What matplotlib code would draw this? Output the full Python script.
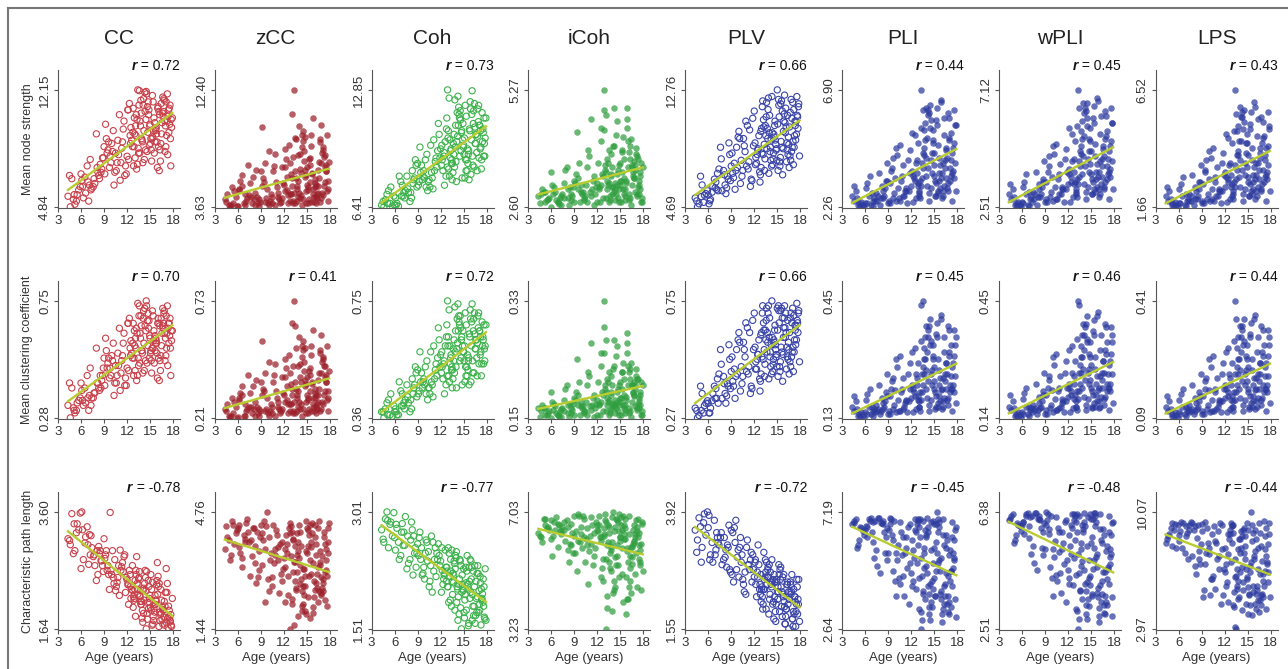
import numpy as np
import matplotlib
matplotlib.use("Agg")
import matplotlib.pyplot as plt
from matplotlib.lines import Line2D

# ages of the subjects (same subjects in every panel)
age = [5.4, 4.6, 5.9, 4.3, 5.2, 4.8, 5.7, 5.0, 4.5, 5.5,
       7.1, 6.3, 6.8, 7.4, 6.0, 6.6, 7.2, 6.1, 7.0, 6.5,
       8.5, 7.8, 9.0, 8.2, 7.6, 8.9, 8.3, 8.0, 8.7, 8.4,
       9.8, 10.2, 9.1, 9.9, 9.3, 10.3, 9.5, 9.7, 9.2, 10.0,
       11.3, 10.6, 11.6, 10.8, 11.1, 10.5, 11.5, 10.7, 11.0, 11.4,
       12.4, 11.8, 12.7, 12.1, 11.7, 12.5, 12.0, 12.3, 12.6, 12.2,
       13.3, 12.9, 13.6, 13.0, 13.25, 12.8, 13.5, 13.1, 13.4, 13.2,
       14.2, 13.8, 14.4, 13.7, 14.05, 14.3, 13.9, 14.35, 14.0, 14.1,
       15.0, 14.6, 15.3, 14.7, 14.5, 15.2, 14.8, 15.1, 14.65, 14.9,
       15.8, 15.4, 16.1, 15.5, 15.95, 15.35, 16.0, 15.6, 15.9, 15.7,
       16.6, 16.3, 17.0, 16.45, 16.2, 16.9, 16.5, 16.8, 16.4, 16.7,
       17.5, 17.15, 17.9, 17.3, 17.1, 17.8, 17.4, 17.7, 17.2, 17.6,
       8.1, 5.1, 9.4, 6.9, 8.8, 7.3, 9.6, 6.2, 8.6, 7.7,
       12.45, 10.4, 12.95, 11.2, 10.1, 12.75, 11.9, 10.9, 12.15, 12.85,
       13.75, 13.05, 14.15, 13.45, 13.15, 13.85, 13.35, 13.95, 13.55, 13.65,
       15.05, 14.45, 15.45, 14.75, 14.25, 15.25, 14.85, 15.15, 14.55, 14.95,
       16.25, 15.65, 16.65, 15.85, 15.55, 16.55, 16.05, 16.35, 15.75, 16.15,
       17.45, 16.85, 17.75, 17.05, 16.75, 17.65, 17.25, 17.55, 16.95, 17.35]

methods = ['CC', 'zCC', 'Coh', 'iCoh', 'PLV', 'PLI', 'wPLI', 'LPS']
measures = ['Mean node strength', 'Mean clustering coefficient', 'Characteristic path length']

#Mean node strength
strength_cc = [5.2, 4.84, 6.1, 5.5, 5.0, 6.6, 5.9, 5.3, 6.8, 5.6,
               6.2, 5.4, 7.4, 6.0, 6.9, 5.7, 7.8, 6.5, 5.2, 6.7,
               7.5, 6.3, 8.6, 7.0, 6.1, 7.9, 6.8, 9.4, 7.2, 6.6,
               8.0, 9.6, 6.9, 7.6, 9.1, 6.2, 8.4, 7.3, 10.0, 8.8,
               8.5, 7.1, 10.2, 9.0, 6.5, 8.2, 9.7, 7.6, 10.6, 8.9,
               9.3, 7.4, 8.6, 10.9, 6.8, 9.8, 8.0, 11.3, 9.0, 7.8,
               10.3, 8.6, 12.1, 9.4, 7.2, 11.0, 8.2, 9.9, 12.15, 10.6,
               9.6, 11.5, 8.4, 10.2, 7.6, 12.0, 9.1, 10.8, 8.9, 11.2,
               10.0, 8.3, 11.8, 9.5, 12.05, 7.7, 10.6, 9.1, 11.1, 8.7,
               9.8, 11.4, 8.6, 10.4, 7.3, 9.2, 11.0, 10.1, 8.9, 9.6,
               10.7, 8.4, 9.9, 11.3, 7.1, 10.2, 9.4, 11.6, 8.8, 10.5,
               11.0, 9.3, 10.4, 8.1, 11.4, 9.8, 10.9, 7.4, 10.2, 11.2,
               7.3, 5.6, 8.2, 6.4, 7.9, 5.9, 8.9, 6.1, 7.0, 6.6,
               8.8, 7.0, 10.4, 7.6, 8.3, 9.5, 6.9, 8.1, 10.9, 7.4,
               9.9, 7.9, 11.6, 8.5, 9.3, 10.7, 7.5, 9.0, 11.2, 8.2,
               8.8, 10.3, 9.6, 11.4, 7.8, 9.1, 10.9, 8.4, 11.9, 9.9,
               10.6, 8.9, 11.7, 9.4, 8.2, 10.1, 11.1, 7.7, 9.7, 10.8,
               9.5, 11.5, 10.3, 8.6, 10.8, 9.1, 11.9, 10.0, 8.3, 10.5]
strength_zcc = [3.9, 4.6, 3.7, 4.2, 5.1, 3.8, 4.4, 3.63, 4.0, 4.8,
                4.1, 5.6, 3.9, 4.5, 3.7, 6.0, 4.3, 4.9, 3.8, 5.2,
                4.4, 3.9, 6.3, 4.7, 5.4, 4.0, 3.8, 5.9, 4.2, 6.4,
                5.0, 4.1, 9.6, 3.9, 5.8, 4.6, 6.9, 4.3, 5.2, 3.8,
                4.7, 6.3, 4.0, 7.6, 5.1, 4.4, 3.9, 6.7, 5.5, 4.2,
                5.9, 4.3, 8.3, 4.8, 6.6, 3.9, 5.3, 7.2, 4.5, 8.0,
                12.40, 4.6, 8.7, 5.8, 4.1, 6.9, 8.8, 5.2, 3.9, 7.4,
                6.2, 4.4, 8.1, 5.0, 7.6, 3.8, 5.6, 9.0, 4.7, 6.5,
                5.3, 7.8, 4.2, 6.4, 8.6, 4.9, 5.9, 3.9, 7.1, 6.0,
                4.6, 7.3, 5.4, 9.0, 4.0, 6.8, 5.1, 8.2, 4.4, 6.1,
                5.8, 4.3, 7.7, 6.4, 3.9, 9.8, 5.2, 6.9, 4.7, 8.5,
                6.3, 4.5, 7.0, 5.5, 8.1, 4.1, 6.6, 5.0, 7.4, 4.8,
                4.2, 3.8, 5.5, 4.6, 3.7, 6.8, 4.0, 5.0, 3.9, 4.4,
                4.9, 3.9, 6.1, 4.4, 7.8, 4.1, 5.4, 3.8, 6.6, 4.6,
                5.2, 10.6, 4.3, 6.3, 3.9, 7.5, 4.7, 9.7, 5.8, 4.1,
                6.6, 4.2, 5.5, 8.9, 4.5, 7.2, 3.9, 5.1, 9.3, 4.8,
                4.4, 6.2, 8.7, 5.0, 4.0, 7.0, 5.7, 4.6, 10.3, 5.3,
                6.8, 4.3, 5.6, 7.9, 4.0, 9.0, 5.2, 6.3, 4.7, 7.5]
strength_coh = [6.6, 6.41, 7.0, 6.5, 7.3, 6.8, 6.45, 7.1, 6.7, 7.5,
                7.0, 6.6, 7.8, 7.3, 6.5, 8.1, 7.2, 6.9, 7.6, 6.44,
                7.9, 7.2, 8.8, 6.9, 8.1, 7.5, 8.4, 6.7, 9.0, 7.7,
                8.4, 9.3, 7.6, 8.0, 9.7, 7.3, 8.7, 8.1, 7.8, 9.0,
                8.9, 7.5, 9.5, 8.3, 10.1, 7.9, 8.6, 9.8, 7.4, 9.1,
                9.2, 10.4, 8.1, 8.7, 11.0, 7.6, 9.6, 8.4, 10.0, 9.0,
                9.5, 12.85, 8.3, 10.6, 9.1, 11.3, 7.9, 12.4, 8.8, 10.1,
                10.3, 8.6, 11.5, 9.3, 7.8, 10.9, 9.7, 11.9, 8.9, 10.0,
                9.8, 11.2, 8.4, 10.5, 9.2, 12.0, 8.0, 10.2, 9.5, 11.0,
                10.6, 9.0, 12.8, 9.6, 8.2, 11.4, 10.1, 9.3, 11.8, 7.9,
                10.4, 11.7, 9.1, 10.8, 8.7, 11.1, 9.9, 10.3, 12.1, 9.4,
                10.7, 9.6, 11.3, 8.5, 10.9, 10.2, 11.6, 9.9, 10.6, 9.2,
                7.2, 6.6, 8.3, 7.0, 8.7, 6.9, 7.9, 6.5, 8.0, 7.4,
                9.4, 7.8, 10.2, 8.4, 7.5, 10.7, 9.1, 8.0, 9.8, 8.6,
                10.4, 8.5, 11.6, 9.0, 8.1, 12.3, 9.6, 10.9, 8.8, 9.9,
                9.3, 11.3, 8.4, 10.6, 12.5, 9.0, 10.1, 8.0, 11.7, 9.7,
                11.0, 9.5, 10.4, 12.2, 8.8, 9.9, 11.5, 8.6, 10.7, 9.2,
                10.0, 11.8, 9.2, 10.9, 8.4, 11.3, 9.7, 10.5, 12.0, 9.0]
strength_icoh = [2.75, 2.9, 2.60, 2.85, 2.7, 3.0, 2.8, 2.95, 2.68, 2.78,
                 2.8, 3.05, 2.7, 2.9, 3.4, 2.75, 2.85, 3.1, 2.66, 2.95,
                 2.9, 3.45, 2.7, 3.0, 2.8, 3.2, 2.65, 3.5, 2.85, 3.05,
                 2.95, 2.75, 3.15, 3.1, 4.3, 2.8, 3.0, 2.7, 3.35, 2.9,
                 3.0, 2.7, 3.3, 3.9, 2.85, 3.1, 2.65, 3.5, 2.95, 3.2,
                 4.1, 3.05, 2.8, 3.6, 2.9, 4.4, 3.15, 2.7, 3.35, 3.0,
                 3.2, 5.27, 2.85, 3.55, 3.0, 4.8, 2.7, 3.4, 3.1, 3.7,
                 4.85, 3.3, 2.9, 3.8, 3.05, 2.75, 3.5, 3.15, 4.0, 2.95,
                 3.6, 3.1, 4.2, 2.8, 3.35, 3.9, 3.0, 2.7, 3.45, 3.2,
                 4.85, 3.25, 2.9, 3.7, 4.1, 3.0, 3.5, 2.75, 4.4, 3.15,
                 3.4, 2.8, 3.8, 3.1, 4.0, 2.95, 3.55, 3.25, 2.65, 3.65,
                 3.3, 2.9, 3.5, 3.05, 3.75, 2.7, 3.2, 3.6, 2.85, 3.4,
                 2.8, 2.95, 3.25, 2.7, 3.05, 2.65, 3.6, 2.9, 2.75, 3.15,
                 3.1, 2.85, 3.45, 4.6, 2.95, 3.3, 2.7, 3.75, 3.05, 4.35,
                 3.35, 2.8, 4.0, 3.15, 4.7, 2.9, 3.6, 3.05, 3.9, 2.75,
                 3.2, 4.25, 2.9, 3.55, 3.0, 3.85, 2.7, 3.4, 4.55, 3.1,
                 3.7, 2.85, 3.3, 4.6, 3.0, 3.5, 2.75, 4.15, 3.2, 3.85,
                 3.1, 3.55, 2.8, 3.95, 3.25, 2.7, 3.7, 3.0, 3.45, 2.9]
strength_plv = [5.0, 4.69, 5.8, 5.3, 6.2, 4.9, 5.6, 6.8, 5.1, 5.5,
                5.9, 5.2, 6.6, 7.3, 5.5, 6.1, 7.0, 4.9, 6.4, 5.7,
                6.8, 5.8, 7.5, 6.2, 8.8, 6.5, 5.6, 7.2, 9.1, 6.0,
                7.4, 6.3, 8.4, 9.5, 6.7, 7.9, 5.9, 8.8, 7.0, 9.9,
                7.8, 9.4, 6.6, 8.5, 10.3, 7.2, 6.1, 8.9, 7.5, 10.0,
                8.3, 10.8, 7.1, 9.1, 6.5, 8.7, 11.3, 7.7, 9.6, 8.1,
                9.0, 7.4, 11.9, 8.4, 10.2, 6.9, 9.6, 12.0, 8.0, 10.7,
                9.3, 11.4, 7.6, 10.1, 8.5, 12.3, 7.0, 9.8, 11.0, 8.8,
                12.76, 9.5, 7.8, 10.6, 8.4, 11.7, 9.0, 7.2, 10.3, 8.7,
                9.9, 8.1, 11.5, 9.2, 12.4, 7.5, 10.5, 8.8, 11.1, 6.9,
                10.2, 8.6, 11.9, 9.5, 7.8, 10.8, 9.0, 12.1, 8.3, 11.2,
                9.7, 11.4, 8.2, 10.6, 7.6, 11.8, 9.3, 10.1, 8.8, 11.0,
                6.9, 5.4, 7.7, 6.0, 8.3, 5.8, 7.2, 5.1, 6.6, 8.0,
                8.6, 6.8, 10.1, 7.3, 9.4, 6.4, 8.9, 10.6, 7.6, 9.9,
                9.4, 11.6, 7.9, 10.3, 8.3, 12.2, 7.2, 9.8, 10.9, 8.7,
                10.4, 8.0, 11.8, 9.3, 7.5, 10.9, 8.6, 12.1, 9.7, 7.9,
                9.1, 11.3, 8.2, 10.6, 12.0, 7.4, 9.8, 11.0, 8.7, 10.2,
                10.6, 8.5, 11.6, 9.2, 7.9, 10.9, 9.6, 12.3, 8.8, 10.3]
strength_pli = [2.3, 2.5, 2.26, 2.7, 2.4, 2.9, 2.35, 2.6, 3.1, 2.45,
                2.5, 3.2, 2.35, 2.8, 2.4, 3.5, 2.6, 3.0, 2.3, 2.7,
                2.7, 3.6, 2.4, 3.1, 2.5, 4.0, 2.9, 2.35, 3.3, 2.6,
                2.8, 4.3, 2.5, 3.4, 2.4, 3.0, 3.8, 2.6, 3.2, 4.6,
                3.0, 2.5, 4.1, 3.5, 2.7, 4.7, 2.4, 3.3, 3.9, 2.9,
                3.4, 4.5, 2.6, 3.7, 2.9, 5.1, 3.1, 2.45, 4.0, 3.5,
                6.90, 3.2, 4.4, 2.7, 5.4, 3.6, 6.1, 2.9, 4.0, 3.3,
                3.8, 5.6, 2.8, 4.6, 3.1, 6.0, 3.5, 2.5, 4.2, 5.0,
                4.4, 3.0, 5.7, 3.6, 6.3, 2.7, 4.9, 3.3, 4.1, 5.3,
                3.9, 6.2, 2.9, 4.7, 3.4, 5.5, 2.6, 4.2, 6.4, 3.6,
                4.5, 3.1, 5.8, 3.8, 2.7, 4.9, 3.4, 6.0, 4.1, 3.0,
                3.7, 5.2, 2.9, 4.4, 3.3, 5.5, 2.5, 4.0, 3.5, 4.8,
                2.6, 2.35, 3.7, 2.8, 3.3, 2.5, 4.2, 2.4, 3.0, 2.7,
                3.3, 2.6, 4.8, 2.9, 2.5, 4.1, 3.6, 2.7, 5.2, 3.1,
                4.3, 2.8, 5.9, 3.4, 2.6, 4.9, 3.1, 6.2, 3.8, 5.3,
                3.5, 5.4, 2.9, 4.4, 6.1, 3.2, 4.8, 2.7, 5.7, 3.9,
                5.1, 3.3, 4.2, 6.5, 2.8, 4.6, 3.6, 5.8, 3.0, 4.0,
                4.6, 3.2, 5.5, 3.8, 2.9, 6.1, 4.1, 3.4, 5.0, 3.6]
strength_wpli = [2.55, 2.8, 2.51, 3.0, 2.65, 3.2, 2.6, 2.9, 3.4, 2.7,
                 2.8, 3.5, 2.6, 3.1, 2.7, 3.8, 2.9, 3.3, 2.55, 3.0,
                 3.0, 3.9, 2.7, 3.4, 2.8, 4.3, 3.2, 2.6, 3.6, 2.9,
                 3.1, 4.6, 2.8, 3.7, 2.7, 3.3, 4.1, 2.9, 3.5, 4.9,
                 3.3, 2.8, 4.4, 3.8, 3.0, 5.0, 2.7, 3.6, 4.2, 3.2,
                 3.7, 4.8, 2.9, 4.0, 3.2, 5.4, 3.4, 2.7, 4.3, 3.8,
                 7.12, 3.5, 4.7, 3.0, 5.7, 3.9, 6.4, 3.2, 4.3, 3.6,
                 4.1, 5.9, 3.1, 4.9, 3.4, 6.3, 3.8, 2.8, 4.5, 5.3,
                 4.7, 3.3, 6.0, 3.9, 6.6, 3.0, 5.2, 3.6, 4.4, 5.6,
                 4.2, 6.5, 3.2, 5.0, 3.7, 5.8, 2.9, 4.5, 6.7, 3.9,
                 4.8, 3.4, 6.1, 4.1, 3.0, 5.2, 3.7, 6.3, 4.4, 3.3,
                 4.0, 5.5, 3.2, 4.7, 3.6, 5.8, 2.8, 4.3, 3.8, 5.1,
                 2.9, 2.6, 3.9, 3.1, 3.5, 2.7, 4.5, 2.65, 3.3, 3.0,
                 3.5, 2.8, 5.1, 3.2, 2.75, 4.4, 3.9, 3.0, 5.6, 3.4,
                 4.6, 3.1, 6.2, 3.7, 2.9, 5.2, 3.4, 6.6, 4.1, 5.5,
                 3.8, 5.7, 3.2, 4.7, 6.4, 3.5, 5.1, 3.0, 6.0, 4.2,
                 5.4, 3.6, 4.5, 6.8, 3.1, 4.9, 3.9, 6.1, 3.3, 4.3,
                 4.9, 3.5, 5.8, 4.1, 3.2, 6.4, 4.4, 3.7, 5.3, 3.9]
strength_lps = [1.7, 1.9, 1.66, 2.1, 1.8, 2.3, 1.75, 2.0, 2.5, 1.85,
                1.9, 2.6, 1.75, 2.2, 1.8, 2.9, 2.0, 2.4, 1.7, 2.1,
                2.1, 3.0, 1.8, 2.5, 1.9, 3.4, 2.3, 1.75, 2.7, 2.0,
                2.2, 3.7, 1.9, 2.8, 1.8, 2.4, 3.2, 2.0, 2.6, 4.0,
                2.4, 1.9, 3.5, 2.9, 2.1, 4.1, 1.8, 2.7, 3.3, 2.3,
                2.8, 3.9, 2.0, 3.1, 2.3, 4.5, 2.5, 1.85, 3.4, 2.9,
                6.52, 2.6, 3.8, 2.1, 4.8, 3.0, 5.5, 2.3, 3.4, 2.7,
                3.2, 5.0, 2.2, 4.0, 2.5, 5.4, 2.9, 1.9, 3.6, 4.4,
                3.8, 2.4, 5.1, 3.0, 5.7, 2.1, 4.3, 2.7, 3.5, 4.7,
                3.3, 5.6, 2.3, 4.1, 2.8, 4.9, 2.0, 3.6, 5.8, 3.0,
                3.9, 2.5, 5.2, 3.2, 2.1, 4.3, 2.8, 5.4, 3.5, 2.4,
                3.1, 4.6, 2.3, 3.8, 2.7, 4.9, 1.9, 3.4, 2.9, 4.2,
                2.0, 1.75, 3.1, 2.2, 2.7, 1.9, 3.6, 1.8, 2.4, 2.1,
                2.7, 2.0, 4.3, 2.3, 1.9, 3.5, 3.0, 2.1, 4.7, 2.5,
                3.8, 2.2, 5.4, 2.8, 2.0, 4.4, 2.5, 5.8, 3.2, 4.8,
                2.9, 4.9, 2.3, 3.9, 5.6, 2.6, 4.3, 2.1, 5.2, 3.3,
                4.6, 2.7, 3.7, 6.0, 2.2, 4.1, 3.0, 5.3, 2.4, 3.5,
                4.1, 2.6, 5.0, 3.2, 2.3, 5.6, 3.6, 2.8, 4.5, 3.0]

#Mean clustering coefficient
cluster_cc = [0.31, 0.28, 0.36, 0.33, 0.30, 0.40, 0.35, 0.32, 0.42, 0.34,
              0.37, 0.33, 0.45, 0.36, 0.42, 0.34, 0.48, 0.39, 0.31, 0.40,
              0.45, 0.38, 0.52, 0.42, 0.36, 0.48, 0.40, 0.56, 0.43, 0.39,
              0.48, 0.58, 0.41, 0.45, 0.55, 0.37, 0.50, 0.44, 0.60, 0.53,
              0.51, 0.42, 0.62, 0.54, 0.39, 0.49, 0.58, 0.45, 0.64, 0.53,
              0.56, 0.44, 0.52, 0.66, 0.41, 0.59, 0.48, 0.68, 0.54, 0.47,
              0.62, 0.52, 0.73, 0.57, 0.43, 0.66, 0.49, 0.60, 0.74, 0.64,
              0.58, 0.69, 0.51, 0.62, 0.46, 0.72, 0.55, 0.65, 0.54, 0.68,
              0.60, 0.50, 0.71, 0.57, 0.75, 0.46, 0.64, 0.55, 0.67, 0.52,
              0.59, 0.69, 0.52, 0.63, 0.44, 0.56, 0.66, 0.61, 0.54, 0.58,
              0.65, 0.51, 0.60, 0.68, 0.43, 0.62, 0.57, 0.70, 0.53, 0.64,
              0.66, 0.56, 0.63, 0.49, 0.69, 0.59, 0.66, 0.45, 0.62, 0.68,
              0.42, 0.31, 0.48, 0.36, 0.45, 0.33, 0.52, 0.35, 0.40, 0.38,
              0.53, 0.42, 0.63, 0.46, 0.51, 0.58, 0.41, 0.49, 0.66, 0.45,
              0.60, 0.47, 0.71, 0.52, 0.56, 0.65, 0.45, 0.55, 0.69, 0.50,
              0.54, 0.63, 0.59, 0.70, 0.47, 0.56, 0.67, 0.51, 0.73, 0.61,
              0.65, 0.55, 0.72, 0.58, 0.50, 0.62, 0.68, 0.47, 0.60, 0.66,
              0.58, 0.71, 0.63, 0.53, 0.66, 0.56, 0.73, 0.61, 0.51, 0.64]
cluster_zcc = [0.23, 0.27, 0.21, 0.25, 0.30, 0.22, 0.26, 0.215, 0.24, 0.28,
               0.24, 0.32, 0.22, 0.26, 0.215, 0.35, 0.25, 0.29, 0.22, 0.31,
               0.26, 0.23, 0.37, 0.28, 0.32, 0.24, 0.22, 0.35, 0.25, 0.38,
               0.30, 0.24, 0.55, 0.23, 0.34, 0.27, 0.41, 0.25, 0.31, 0.22,
               0.28, 0.37, 0.24, 0.45, 0.30, 0.26, 0.23, 0.40, 0.33, 0.25,
               0.35, 0.25, 0.49, 0.28, 0.39, 0.23, 0.31, 0.43, 0.27, 0.47,
               0.73, 0.27, 0.52, 0.34, 0.24, 0.41, 0.62, 0.31, 0.23, 0.44,
               0.37, 0.26, 0.48, 0.30, 0.45, 0.22, 0.33, 0.53, 0.28, 0.39,
               0.31, 0.46, 0.25, 0.38, 0.51, 0.29, 0.35, 0.23, 0.42, 0.36,
               0.27, 0.43, 0.32, 0.53, 0.24, 0.40, 0.30, 0.49, 0.26, 0.36,
               0.34, 0.25, 0.46, 0.38, 0.23, 0.58, 0.31, 0.41, 0.28, 0.50,
               0.37, 0.27, 0.42, 0.33, 0.48, 0.24, 0.39, 0.30, 0.44, 0.29,
               0.25, 0.22, 0.33, 0.27, 0.22, 0.40, 0.24, 0.30, 0.23, 0.26,
               0.29, 0.23, 0.36, 0.26, 0.46, 0.24, 0.32, 0.22, 0.39, 0.27,
               0.31, 0.63, 0.25, 0.37, 0.23, 0.44, 0.28, 0.57, 0.34, 0.24,
               0.39, 0.25, 0.33, 0.52, 0.27, 0.42, 0.23, 0.30, 0.55, 0.28,
               0.26, 0.37, 0.51, 0.30, 0.24, 0.41, 0.34, 0.27, 0.60, 0.31,
               0.40, 0.25, 0.33, 0.47, 0.24, 0.53, 0.31, 0.37, 0.28, 0.44]
cluster_coh = [0.37, 0.36, 0.40, 0.38, 0.42, 0.39, 0.365, 0.41, 0.38, 0.44,
               0.40, 0.37, 0.45, 0.42, 0.38, 0.48, 0.41, 0.39, 0.44, 0.37,
               0.46, 0.41, 0.52, 0.39, 0.47, 0.43, 0.49, 0.38, 0.53, 0.44,
               0.49, 0.55, 0.44, 0.47, 0.58, 0.42, 0.51, 0.48, 0.45, 0.53,
               0.52, 0.44, 0.56, 0.48, 0.60, 0.46, 0.50, 0.58, 0.43, 0.54,
               0.54, 0.62, 0.47, 0.51, 0.66, 0.44, 0.57, 0.49, 0.60, 0.53,
               0.56, 0.75, 0.49, 0.63, 0.54, 0.67, 0.46, 0.72, 0.52, 0.60,
               0.61, 0.51, 0.68, 0.55, 0.46, 0.65, 0.58, 0.70, 0.53, 0.59,
               0.58, 0.66, 0.50, 0.62, 0.55, 0.71, 0.47, 0.60, 0.56, 0.65,
               0.63, 0.53, 0.74, 0.57, 0.48, 0.67, 0.60, 0.55, 0.69, 0.47,
               0.62, 0.69, 0.54, 0.64, 0.51, 0.66, 0.59, 0.61, 0.71, 0.56,
               0.63, 0.57, 0.67, 0.50, 0.65, 0.60, 0.68, 0.59, 0.63, 0.54,
               0.42, 0.37, 0.48, 0.40, 0.51, 0.39, 0.46, 0.38, 0.47, 0.43,
               0.55, 0.46, 0.60, 0.49, 0.44, 0.63, 0.53, 0.47, 0.58, 0.50,
               0.62, 0.50, 0.69, 0.53, 0.48, 0.73, 0.57, 0.65, 0.52, 0.59,
               0.55, 0.67, 0.50, 0.63, 0.74, 0.53, 0.60, 0.48, 0.70, 0.58,
               0.65, 0.56, 0.62, 0.72, 0.52, 0.59, 0.68, 0.51, 0.64, 0.55,
               0.60, 0.70, 0.55, 0.65, 0.50, 0.67, 0.58, 0.62, 0.71, 0.54]
cluster_icoh = [0.155, 0.16, 0.15, 0.165, 0.155, 0.17, 0.16, 0.165, 0.152, 0.158,
                0.16, 0.172, 0.155, 0.165, 0.19, 0.158, 0.163, 0.175, 0.153, 0.168,
                0.165, 0.195, 0.155, 0.17, 0.16, 0.18, 0.152, 0.20, 0.162, 0.172,
                0.168, 0.157, 0.178, 0.175, 0.24, 0.16, 0.17, 0.155, 0.19, 0.165,
                0.17, 0.155, 0.185, 0.22, 0.162, 0.175, 0.152, 0.20, 0.168, 0.18,
                0.23, 0.172, 0.16, 0.205, 0.165, 0.25, 0.178, 0.155, 0.19, 0.17,
                0.18, 0.33, 0.162, 0.20, 0.17, 0.29, 0.155, 0.19, 0.175, 0.21,
                0.27, 0.185, 0.165, 0.215, 0.172, 0.158, 0.20, 0.178, 0.225, 0.168,
                0.205, 0.175, 0.235, 0.16, 0.19, 0.22, 0.17, 0.155, 0.195, 0.18,
                0.28, 0.185, 0.165, 0.21, 0.23, 0.17, 0.20, 0.158, 0.25, 0.178,
                0.19, 0.16, 0.215, 0.175, 0.225, 0.168, 0.20, 0.183, 0.152, 0.205,
                0.185, 0.165, 0.20, 0.172, 0.21, 0.155, 0.18, 0.205, 0.162, 0.19,
                0.158, 0.165, 0.185, 0.155, 0.172, 0.152, 0.205, 0.162, 0.157, 0.178,
                0.175, 0.16, 0.195, 0.265, 0.168, 0.185, 0.155, 0.215, 0.172, 0.25,
                0.19, 0.16, 0.23, 0.178, 0.27, 0.165, 0.205, 0.172, 0.22, 0.158,
                0.18, 0.245, 0.165, 0.20, 0.17, 0.22, 0.155, 0.195, 0.26, 0.175,
                0.21, 0.162, 0.188, 0.265, 0.17, 0.20, 0.158, 0.235, 0.182, 0.22,
                0.176, 0.20, 0.16, 0.225, 0.185, 0.155, 0.21, 0.17, 0.195, 0.165]
cluster_plv = [0.29, 0.27, 0.34, 0.31, 0.37, 0.28, 0.33, 0.40, 0.30, 0.32,
               0.35, 0.31, 0.40, 0.45, 0.33, 0.37, 0.43, 0.29, 0.39, 0.34,
               0.41, 0.35, 0.46, 0.37, 0.55, 0.39, 0.33, 0.44, 0.57, 0.36,
               0.45, 0.38, 0.52, 0.59, 0.40, 0.48, 0.35, 0.55, 0.42, 0.62,
               0.48, 0.58, 0.40, 0.52, 0.64, 0.44, 0.37, 0.55, 0.46, 0.62,
               0.51, 0.67, 0.43, 0.56, 0.39, 0.53, 0.70, 0.47, 0.59, 0.50,
               0.55, 0.45, 0.72, 0.52, 0.63, 0.42, 0.59, 0.73, 0.49, 0.66,
               0.57, 0.70, 0.46, 0.62, 0.52, 0.75, 0.43, 0.60, 0.68, 0.54,
               0.72, 0.58, 0.48, 0.65, 0.51, 0.71, 0.55, 0.44, 0.63, 0.53,
               0.60, 0.50, 0.70, 0.56, 0.73, 0.46, 0.64, 0.54, 0.68, 0.42,
               0.62, 0.52, 0.72, 0.58, 0.47, 0.66, 0.55, 0.70, 0.51, 0.68,
               0.59, 0.69, 0.50, 0.65, 0.46, 0.71, 0.57, 0.62, 0.54, 0.67,
               0.41, 0.30, 0.47, 0.35, 0.51, 0.33, 0.44, 0.29, 0.40, 0.49,
               0.53, 0.41, 0.62, 0.45, 0.58, 0.38, 0.55, 0.66, 0.47, 0.61,
               0.58, 0.70, 0.48, 0.63, 0.51, 0.73, 0.44, 0.60, 0.67, 0.54,
               0.63, 0.49, 0.71, 0.57, 0.45, 0.66, 0.52, 0.73, 0.59, 0.48,
               0.56, 0.68, 0.50, 0.64, 0.72, 0.45, 0.60, 0.67, 0.53, 0.62,
               0.65, 0.52, 0.70, 0.56, 0.48, 0.66, 0.59, 0.74, 0.54, 0.63]
cluster_pli = [0.135, 0.15, 0.13, 0.16, 0.14, 0.175, 0.137, 0.155, 0.19, 0.145,
               0.15, 0.195, 0.14, 0.165, 0.145, 0.21, 0.155, 0.18, 0.135, 0.16,
               0.16, 0.22, 0.14, 0.185, 0.15, 0.25, 0.17, 0.14, 0.20, 0.155,
               0.165, 0.27, 0.15, 0.205, 0.14, 0.18, 0.23, 0.155, 0.19, 0.29,
               0.18, 0.15, 0.25, 0.21, 0.16, 0.30, 0.145, 0.20, 0.24, 0.175,
               0.20, 0.28, 0.155, 0.22, 0.175, 0.32, 0.185, 0.145, 0.25, 0.21,
               0.44, 0.19, 0.27, 0.16, 0.34, 0.22, 0.45, 0.175, 0.25, 0.20,
               0.23, 0.35, 0.165, 0.29, 0.185, 0.38, 0.21, 0.15, 0.26, 0.31,
               0.27, 0.18, 0.36, 0.22, 0.40, 0.16, 0.30, 0.20, 0.25, 0.33,
               0.24, 0.39, 0.175, 0.29, 0.205, 0.35, 0.155, 0.26, 0.41, 0.22,
               0.28, 0.185, 0.37, 0.23, 0.16, 0.31, 0.21, 0.38, 0.25, 0.18,
               0.22, 0.33, 0.17, 0.27, 0.20, 0.35, 0.15, 0.245, 0.21, 0.30,
               0.15, 0.135, 0.21, 0.16, 0.19, 0.145, 0.24, 0.14, 0.175, 0.155,
               0.19, 0.15, 0.28, 0.17, 0.145, 0.24, 0.21, 0.155, 0.31, 0.18,
               0.25, 0.16, 0.35, 0.20, 0.15, 0.29, 0.18, 0.38, 0.22, 0.32,
               0.21, 0.33, 0.17, 0.26, 0.37, 0.19, 0.29, 0.155, 0.34, 0.23,
               0.31, 0.19, 0.25, 0.40, 0.16, 0.28, 0.21, 0.35, 0.175, 0.24,
               0.28, 0.185, 0.33, 0.22, 0.165, 0.37, 0.245, 0.20, 0.30, 0.21]
cluster_wpli = [0.145, 0.16, 0.14, 0.17, 0.15, 0.185, 0.147, 0.165, 0.20, 0.155,
                0.16, 0.205, 0.15, 0.175, 0.155, 0.22, 0.165, 0.19, 0.145, 0.17,
                0.17, 0.23, 0.15, 0.195, 0.16, 0.26, 0.18, 0.15, 0.21, 0.165,
                0.175, 0.28, 0.16, 0.215, 0.15, 0.19, 0.24, 0.165, 0.20, 0.30,
                0.19, 0.16, 0.26, 0.22, 0.17, 0.31, 0.155, 0.21, 0.25, 0.185,
                0.21, 0.29, 0.165, 0.23, 0.185, 0.33, 0.195, 0.155, 0.26, 0.22,
                0.45, 0.20, 0.28, 0.17, 0.35, 0.23, 0.44, 0.185, 0.26, 0.21,
                0.24, 0.36, 0.175, 0.30, 0.195, 0.39, 0.22, 0.16, 0.27, 0.32,
                0.28, 0.19, 0.37, 0.23, 0.41, 0.17, 0.31, 0.21, 0.26, 0.34,
                0.25, 0.40, 0.185, 0.30, 0.215, 0.36, 0.165, 0.27, 0.42, 0.23,
                0.29, 0.195, 0.38, 0.24, 0.17, 0.32, 0.22, 0.39, 0.26, 0.19,
                0.23, 0.34, 0.18, 0.28, 0.21, 0.36, 0.16, 0.255, 0.22, 0.31,
                0.16, 0.145, 0.22, 0.17, 0.20, 0.155, 0.25, 0.15, 0.185, 0.165,
                0.20, 0.16, 0.29, 0.18, 0.155, 0.25, 0.22, 0.165, 0.32, 0.19,
                0.26, 0.17, 0.36, 0.21, 0.16, 0.30, 0.19, 0.39, 0.23, 0.33,
                0.22, 0.34, 0.18, 0.27, 0.38, 0.20, 0.30, 0.165, 0.35, 0.24,
                0.32, 0.20, 0.26, 0.41, 0.17, 0.29, 0.22, 0.36, 0.185, 0.25,
                0.29, 0.195, 0.34, 0.23, 0.175, 0.38, 0.255, 0.21, 0.31, 0.22]
cluster_lps = [0.095, 0.11, 0.09, 0.12, 0.10, 0.135, 0.097, 0.115, 0.15, 0.105,
               0.11, 0.155, 0.10, 0.125, 0.105, 0.17, 0.115, 0.14, 0.095, 0.12,
               0.12, 0.18, 0.10, 0.145, 0.11, 0.21, 0.13, 0.10, 0.16, 0.115,
               0.125, 0.23, 0.11, 0.165, 0.10, 0.14, 0.19, 0.115, 0.15, 0.25,
               0.14, 0.11, 0.21, 0.17, 0.12, 0.26, 0.105, 0.16, 0.20, 0.135,
               0.16, 0.24, 0.115, 0.18, 0.135, 0.28, 0.145, 0.105, 0.21, 0.17,
               0.41, 0.15, 0.23, 0.12, 0.30, 0.18, 0.36, 0.135, 0.21, 0.16,
               0.19, 0.31, 0.125, 0.25, 0.145, 0.34, 0.17, 0.11, 0.22, 0.27,
               0.23, 0.14, 0.32, 0.18, 0.36, 0.12, 0.26, 0.16, 0.21, 0.29,
               0.20, 0.35, 0.135, 0.25, 0.165, 0.31, 0.115, 0.22, 0.37, 0.18,
               0.24, 0.145, 0.33, 0.19, 0.12, 0.27, 0.17, 0.34, 0.21, 0.14,
               0.18, 0.29, 0.13, 0.23, 0.16, 0.31, 0.11, 0.205, 0.17, 0.26,
               0.11, 0.095, 0.17, 0.12, 0.15, 0.105, 0.20, 0.10, 0.135, 0.115,
               0.15, 0.11, 0.24, 0.13, 0.105, 0.20, 0.17, 0.115, 0.27, 0.14,
               0.21, 0.12, 0.31, 0.16, 0.11, 0.25, 0.14, 0.34, 0.18, 0.28,
               0.17, 0.29, 0.13, 0.22, 0.33, 0.15, 0.25, 0.115, 0.30, 0.19,
               0.27, 0.15, 0.21, 0.36, 0.12, 0.24, 0.17, 0.31, 0.135, 0.20,
               0.24, 0.145, 0.29, 0.18, 0.125, 0.33, 0.205, 0.16, 0.26, 0.17]

#Characteristic path length
path_cc = [3.25, 3.05, 3.58, 3.15, 2.95, 3.57, 3.30, 2.90, 3.12, 3.40,
           3.22, 2.80, 3.35, 3.00, 2.65, 3.18, 2.88, 3.60, 2.72, 3.08,
           2.95, 2.70, 3.15, 2.55, 2.85, 2.60, 3.02, 2.45, 2.78, 2.90,
           3.59, 2.50, 2.82, 2.62, 2.95, 2.40, 2.70, 2.30, 2.88, 2.55,
           2.68, 2.35, 2.85, 2.50, 2.96, 2.28, 2.60, 2.42, 2.20, 2.75,
           2.55, 2.25, 2.70, 2.38, 2.88, 2.15, 2.46, 2.62, 2.30, 2.05,
           2.40, 2.12, 2.60, 2.30, 2.85, 2.00, 2.48, 1.85, 2.22, 2.55,
           2.32, 2.05, 2.50, 2.18, 1.75, 2.40, 2.10, 2.62, 1.95, 2.28,
           2.20, 1.90, 2.42, 2.08, 1.64, 2.30, 1.98, 2.55, 1.80, 2.15,
           2.10, 1.85, 2.35, 1.98, 2.75, 1.72, 2.22, 1.92, 2.45, 2.05,
           2.00, 1.78, 2.25, 1.90, 2.40, 1.70, 2.12, 1.84, 2.30, 1.95,
           1.95, 1.74, 2.15, 1.82, 2.65, 1.68, 2.02, 1.88, 2.25, 1.78,
           2.95, 3.40, 2.62, 3.05, 2.70, 3.20, 2.55, 3.30, 2.78, 2.88,
           2.35, 2.80, 2.15, 2.62, 2.95, 2.28, 2.50, 2.70, 2.40, 2.18,
           2.10, 2.45, 1.90, 2.38, 2.62, 2.05, 2.30, 1.82, 2.50, 2.20,
           2.00, 2.28, 1.78, 2.45, 2.12, 1.70, 2.35, 1.95, 2.60, 2.08,
           1.92, 2.20, 1.72, 2.38, 2.05, 1.80, 2.52, 1.88, 2.12, 1.68,
           1.85, 2.10, 1.70, 2.25, 1.96, 1.76, 2.40, 1.82, 2.02, 1.66]
path_zcc = [4.40, 4.05, 4.25, 3.70, 4.50, 3.95, 4.15, 3.40, 4.35, 3.85,
            4.45, 3.60, 4.10, 3.90, 4.30, 3.20, 4.55, 3.75, 4.00, 3.45,
            4.20, 3.50, 4.40, 3.80, 2.95, 4.05, 3.30, 4.30, 3.65, 2.75,
            4.76, 3.40, 4.15, 2.85, 3.95, 3.60, 2.20, 4.35, 3.25, 4.05,
            3.75, 4.40, 3.00, 3.55, 4.10, 2.65, 3.85, 3.30, 4.25, 2.45,
            3.60, 2.80, 4.30, 3.20, 3.90, 2.40, 3.45, 4.10, 2.95, 3.70,
            1.55, 3.50, 2.60, 4.20, 3.05, 1.44, 3.80, 2.30, 3.35, 4.00,
            2.85, 3.65, 2.10, 4.15, 3.25, 2.50, 3.90, 1.95, 3.45, 2.70,
            3.60, 2.40, 4.10, 2.95, 2.15, 3.80, 2.65, 4.25, 3.15, 1.85,
            3.30, 4.40, 2.55, 3.75, 2.80, 1.75, 4.05, 3.00, 2.35, 4.45,
            4.50, 2.60, 3.50, 2.20, 3.85, 2.90, 4.30, 2.45, 3.20, 3.65,
            3.40, 2.75, 4.45, 3.05, 2.50, 3.90, 2.25, 3.60, 4.20, 2.95,
            4.30, 3.55, 4.50, 3.90, 3.10, 4.20, 3.70, 4.40, 2.90, 3.95,
            3.85, 2.90, 4.35, 3.40, 2.50, 4.15, 3.15, 3.70, 2.20, 4.45,
            3.55, 2.15, 4.20, 2.80, 3.95, 1.80, 3.35, 4.40, 2.55, 3.05,
            4.30, 2.65, 3.40, 1.95, 3.80, 2.95, 4.50, 2.35, 3.15, 3.65,
            2.75, 4.15, 3.25, 2.05, 3.90, 2.50, 4.40, 3.00, 1.90, 3.55,
            3.70, 2.40, 4.30, 2.85, 3.35, 2.10, 4.05, 3.10, 2.60, 3.85]
path_coh = [2.85, 2.62, 3.00, 2.78, 2.55, 2.92, 2.70, 3.01, 2.66, 2.88,
            2.58, 2.80, 2.45, 2.95, 2.68, 2.40, 2.75, 2.52, 2.86, 2.62,
            2.70, 2.35, 2.60, 2.88, 2.28, 2.48, 2.78, 2.40, 2.55, 2.20,
            2.30, 2.62, 2.45, 2.15, 2.75, 2.38, 2.55, 2.22, 2.68, 2.48,
            2.55, 2.12, 2.40, 2.70, 2.25, 2.05, 2.48, 2.32, 2.62, 2.18,
            2.15, 2.45, 2.30, 1.98, 2.60, 2.22, 2.38, 2.08, 2.52, 2.26,
            2.40, 2.05, 2.22, 2.55, 1.88, 2.30, 2.12, 2.48, 1.80, 2.18,
            2.02, 2.35, 1.70, 2.20, 2.50, 1.92, 2.28, 2.08, 2.42, 1.85,
            2.28, 1.78, 2.10, 1.51, 2.40, 1.95, 2.20, 1.65, 2.32, 2.02,
            1.90, 2.25, 1.62, 2.08, 2.38, 1.75, 2.15, 1.55, 1.98, 2.30,
            2.12, 1.68, 2.00, 2.32, 1.80, 2.22, 1.58, 1.92, 2.05, 1.72,
            1.85, 2.18, 1.62, 2.02, 1.75, 2.28, 1.90, 1.66, 2.10, 1.80,
            2.65, 2.90, 2.40, 2.75, 2.30, 2.58, 2.20, 2.85, 2.48, 2.70,
            2.20, 2.50, 2.05, 2.40, 2.65, 2.12, 2.32, 1.98, 2.55, 2.25,
            2.38, 1.85, 2.05, 2.52, 2.18, 1.75, 2.25, 2.45, 1.95, 2.10,
            1.72, 2.15, 2.45, 1.98, 1.62, 2.30, 2.08, 1.88, 2.38, 2.00,
            2.25, 1.58, 1.90, 2.40, 2.02, 1.68, 2.30, 1.80, 2.12, 1.95,
            1.96, 2.32, 1.64, 1.82, 2.22, 2.05, 1.56, 2.15, 1.72, 1.88]
path_icoh = [6.50, 6.20, 6.75, 6.35, 6.60, 6.05, 6.45, 6.80, 6.25, 6.55,
             6.40, 6.70, 5.90, 6.55, 6.15, 6.85, 6.30, 5.60, 6.60, 6.45,
             6.65, 6.10, 6.90, 5.80, 6.45, 6.25, 5.40, 6.75, 6.35, 6.00,
             6.30, 6.80, 5.70, 6.55, 5.10, 6.20, 6.95, 6.05, 6.40, 5.85,
             6.60, 5.95, 6.35, 4.70, 6.85, 6.15, 5.60, 6.50, 6.25, 5.30,
             6.10, 6.70, 5.50, 6.40, 5.85, 4.90, 6.60, 6.20, 5.20, 6.90,
             4.30, 6.50, 5.70, 6.95, 3.90, 6.25, 5.40, 3.23, 6.60, 5.95,
             6.40, 5.10, 6.80, 5.80, 4.40, 6.55, 6.05, 5.55, 7.03, 4.80,
             6.20, 5.60, 4.10, 6.70, 5.95, 6.45, 4.90, 6.85, 5.30, 6.10,
             5.75, 6.60, 4.60, 6.30, 5.40, 6.90, 4.20, 6.15, 5.85, 3.70,
             6.45, 5.20, 6.75, 5.90, 4.80, 6.30, 5.55, 6.60, 4.40, 6.05,
             5.80, 6.55, 5.10, 6.20, 4.60, 6.70, 5.50, 6.00, 6.40, 5.30,
             6.55, 6.80, 6.10, 6.65, 5.70, 6.40, 6.90, 6.25, 5.95, 6.70,
             6.20, 5.40, 6.75, 6.00, 6.90, 4.80, 6.45, 5.75, 6.60, 6.30,
             5.90, 6.70, 4.50, 6.35, 5.50, 6.85, 6.05, 3.80, 6.55, 5.20,
             6.60, 5.30, 6.15, 6.95, 4.60, 5.85, 6.40, 5.00, 6.75, 6.20,
             5.60, 6.80, 6.00, 4.20, 6.50, 5.35, 6.90, 5.90, 4.90, 6.30,
             6.35, 5.00, 6.65, 5.70, 6.10, 4.50, 6.80, 5.40, 6.20, 5.95]
path_plv = [3.70, 3.35, 3.92, 3.55, 3.20, 3.80, 3.45, 3.62, 3.10, 3.88,
            3.50, 3.05, 3.75, 3.25, 3.60, 2.90, 3.40, 3.85, 3.15, 3.30,
            3.25, 2.85, 3.55, 3.00, 3.40, 2.70, 3.15, 2.95, 3.65, 2.80,
            3.00, 3.40, 2.65, 3.15, 2.50, 2.90, 3.30, 2.75, 3.50, 2.60,
            2.85, 2.45, 3.10, 2.70, 3.35, 2.55, 2.95, 2.30, 3.20, 2.75,
            2.70, 3.05, 2.35, 2.90, 2.50, 3.25, 2.60, 2.20, 2.85, 2.45,
            2.55, 2.10, 2.90, 2.40, 3.10, 2.25, 2.70, 1.95, 2.60, 2.35,
            2.45, 2.80, 2.05, 2.60, 2.25, 2.95, 1.85, 2.50, 2.15, 2.70,
            2.30, 2.65, 1.90, 2.50, 2.10, 2.85, 1.70, 2.40, 2.20, 2.55,
            2.20, 2.55, 1.80, 2.40, 2.00, 2.75, 1.65, 2.30, 2.10, 2.60,
            2.15, 2.45, 1.75, 2.30, 1.95, 2.65, 1.55, 2.25, 2.05, 2.50,
            2.05, 2.35, 1.70, 2.20, 1.90, 2.55, 1.60, 2.15, 1.85, 2.40,
            3.40, 2.90, 3.60, 3.05, 2.75, 3.30, 3.75, 2.95, 3.20, 3.50,
            2.60, 3.05, 2.35, 2.85, 3.20, 2.45, 2.75, 2.25, 2.95, 2.65,
            2.75, 2.20, 2.50, 2.95, 2.05, 2.60, 2.35, 2.85, 1.95, 2.45,
            2.15, 2.55, 2.80, 1.90, 2.40, 2.65, 2.05, 2.30, 1.75, 2.50,
            2.45, 1.80, 2.30, 2.65, 2.00, 2.15, 1.65, 2.50, 2.25, 1.95,
            1.90, 2.30, 2.05, 1.60, 2.45, 1.85, 2.20, 2.55, 1.75, 2.10]
path_pli = [6.60, 6.85, 6.30, 6.70, 6.10, 6.90, 6.45, 5.80, 6.75, 6.55,
            6.80, 6.20, 6.95, 5.70, 6.50, 6.85, 5.40, 6.65, 6.00, 6.90,
            6.40, 6.95, 5.60, 6.75, 5.10, 6.55, 6.85, 4.80, 6.20, 6.70,
            6.85, 5.30, 6.50, 4.50, 6.70, 5.90, 6.30, 4.90, 6.95, 5.60,
            6.20, 4.40, 6.60, 5.50, 3.90, 6.80, 5.00, 6.40, 4.70, 5.80,
            5.40, 6.70, 4.20, 6.10, 3.60, 6.90, 4.80, 5.70, 6.40, 4.50,
            2.64, 5.90, 4.00, 6.60, 3.30, 5.20, 6.85, 4.60, 3.00, 6.20,
            4.30, 6.50, 3.50, 5.60, 6.95, 4.00, 5.10, 3.20, 6.20, 4.80,
            5.80, 3.70, 6.70, 4.50, 3.00, 6.00, 5.20, 3.90, 6.80, 4.20,
            4.90, 7.19, 3.40, 6.40, 4.10, 5.60, 2.90, 6.80, 3.80, 5.30,
            6.30, 3.60, 5.50, 4.40, 6.90, 3.20, 5.80, 4.70, 3.90, 6.10,
            5.00, 3.50, 6.60, 4.30, 5.70, 3.10, 6.20, 3.80, 4.90, 5.40,
            6.75, 5.90, 6.90, 6.40, 5.30, 6.85, 6.10, 6.60, 5.60, 6.95,
            6.50, 4.60, 6.85, 5.60, 3.90, 6.70, 5.20, 6.20, 4.30, 6.90,
            5.80, 3.40, 6.60, 4.70, 6.90, 3.80, 5.40, 6.30, 4.10, 5.00,
            6.70, 4.40, 5.20, 3.50, 6.40, 4.90, 6.85, 3.90, 5.70, 4.60,
            4.30, 6.60, 3.60, 5.40, 6.90, 4.80, 3.20, 5.90, 4.00, 6.30,
            5.60, 3.90, 6.50, 4.50, 3.30, 6.10, 4.90, 5.30, 3.70, 6.80]
path_wpli = [6.00, 6.25, 5.75, 6.10, 5.60, 6.30, 5.90, 5.35, 6.15, 5.95,
             6.20, 5.65, 6.35, 5.25, 5.95, 6.25, 5.00, 6.05, 5.50, 6.30,
             5.85, 6.35, 5.15, 6.15, 4.70, 6.00, 6.25, 4.45, 5.70, 6.10,
             6.25, 4.90, 5.95, 4.20, 6.10, 5.40, 5.80, 4.55, 6.38, 5.15,
             5.70, 4.10, 6.05, 5.05, 3.70, 6.20, 4.65, 5.85, 4.35, 5.35,
             5.00, 6.10, 3.95, 5.60, 3.40, 6.30, 4.45, 5.25, 5.85, 4.20,
             2.51, 5.45, 3.75, 6.05, 3.10, 4.85, 6.25, 4.30, 2.85, 5.70,
             4.00, 5.95, 3.30, 5.15, 6.35, 3.75, 4.75, 3.00, 5.70, 4.45,
             5.35, 3.50, 6.15, 4.20, 2.85, 5.55, 4.80, 3.65, 6.20, 3.95,
             4.55, 6.35, 3.20, 5.90, 3.85, 5.20, 2.75, 6.25, 3.55, 4.90,
             5.80, 3.40, 5.10, 4.10, 6.30, 3.00, 5.35, 4.40, 3.65, 5.60,
             4.65, 3.30, 6.05, 4.00, 5.25, 2.95, 5.70, 3.55, 4.55, 5.00,
             6.15, 5.45, 6.30, 5.90, 4.95, 6.25, 5.65, 6.05, 5.20, 6.35,
             5.95, 4.30, 6.25, 5.15, 3.60, 6.10, 4.80, 5.70, 4.00, 6.30,
             5.35, 3.15, 6.05, 4.35, 6.30, 3.50, 5.00, 5.80, 3.80, 4.60,
             6.15, 4.05, 4.80, 3.25, 5.90, 4.50, 6.30, 3.60, 5.25, 4.25,
             3.95, 6.05, 3.30, 5.00, 6.35, 4.40, 2.95, 5.45, 3.70, 5.80,
             5.15, 3.60, 6.00, 4.15, 3.05, 5.60, 4.50, 4.90, 3.40, 6.25]
path_lps = [9.00, 8.60, 9.30, 8.20, 9.40, 8.75, 7.90, 9.10, 8.45, 9.35,
            8.80, 9.45, 7.60, 9.00, 8.30, 9.40, 7.20, 8.65, 9.20, 7.90,
            9.30, 7.40, 8.90, 6.80, 9.45, 8.10, 6.30, 9.00, 7.70, 8.50,
            8.20, 6.00, 9.35, 7.50, 5.30, 8.70, 6.90, 9.10, 4.90, 7.90,
            6.60, 9.20, 7.80, 5.40, 8.90, 6.20, 4.50, 8.30, 7.20, 9.40,
            7.50, 5.00, 8.70, 6.40, 9.30, 4.60, 7.90, 5.80, 8.40, 6.90,
            3.10, 8.20, 5.60, 9.20, 4.30, 7.00, 2.97, 8.80, 6.10, 5.20,
            6.70, 4.80, 9.00, 5.90, 7.60, 4.10, 8.40, 5.30, 6.40, 7.90,
            5.50, 8.60, 4.40, 7.20, 9.10, 5.00, 6.60, 3.90, 8.00, 6.10,
            7.40, 10.07, 5.10, 8.30, 4.50, 6.80, 9.00, 3.80, 7.70, 5.60,
            8.80, 4.70, 6.30, 9.40, 5.30, 7.10, 4.00, 8.00, 6.60, 5.00,
            6.90, 9.50, 4.90, 7.80, 5.60, 9.40, 4.20, 6.40, 8.60, 5.80,
            9.20, 8.00, 9.45, 8.60, 6.90, 9.30, 7.60, 8.90, 7.20, 9.40,
            8.70, 6.00, 9.30, 7.40, 5.00, 9.00, 6.60, 8.20, 5.60, 9.40,
            7.80, 4.40, 8.90, 6.20, 9.30, 4.90, 7.20, 8.40, 5.40, 6.60,
            9.00, 5.80, 7.00, 4.50, 8.60, 6.40, 9.40, 5.10, 7.60, 6.00,
            5.60, 8.80, 4.70, 7.20, 9.30, 6.30, 4.20, 7.90, 5.20, 8.40,
            7.40, 5.10, 8.70, 5.90, 4.40, 8.10, 6.50, 7.00, 4.90, 9.10]

values = [
    [strength_cc, strength_zcc, strength_coh, strength_icoh,
     strength_plv, strength_pli, strength_wpli, strength_lps],
    [cluster_cc, cluster_zcc, cluster_coh, cluster_icoh,
     cluster_plv, cluster_pli, cluster_wpli, cluster_lps],
    [path_cc, path_zcc, path_coh, path_icoh,
     path_plv, path_pli, path_wpli, path_lps],
]

r_labels = [
    ['0.72', None, '0.73', None, '0.66', '0.44', '0.45', '0.43'],
    ['0.70', '0.41', '0.72', None, '0.66', '0.45', '0.46', '0.44'],
    ['-0.78', None, '-0.77', None, '-0.72', '-0.45', '-0.48', '-0.44'],
]

# marker colour and open/filled per method
colors = ['#c8414b', '#9b1f29', '#3db24c', '#2f9e3f', '#3b45a8', '#2c3a9e', '#2c3a9e', '#2c3a9e']
filled = [False, True, False, True, False, True, True, True]
fit_color = '#b9cc2f'

plt.rcParams['font.family'] = ['Liberation Sans', 'DejaVu Sans']

W, H = 1288, 669
fig = plt.figure(figsize=(W / 100, H / 100), dpi=100)

ages = np.array(age)
for row in range(3):
    for col in range(8):
        left = (58 + col * 156.8) / W
        bottom = [1 - 208 / H, 1 - 419 / H, 1 - 630 / H][row]
        ax = fig.add_axes([left, bottom, 122 / W, 138 / H])
        v = np.array(values[row][col])

        if filled[col]:
            ax.scatter(ages, v, s=22, color=colors[col], alpha=0.72, linewidths=0, zorder=2)
        else:
            ax.scatter(ages, v, s=20, facecolors='none', edgecolors=colors[col], linewidths=0.8, zorder=2)

        # least squares fit
        p = np.polyfit(ages, v, 1)
        xx = np.array([ages.min(), ages.max()])
        ax.plot(xx, np.polyval(p, xx), color=fit_color, lw=1.7, zorder=3)

        lo, hi = v.min(), v.max()
        rng = hi - lo
        ax.set_xlim(3, 18.9)
        ax.set_ylim(lo - 0.01 * rng, hi + 0.17 * rng)
        ax.set_xticks([3, 6, 9, 12, 15, 18])
        ax.set_yticks([lo, hi])
        ax.set_yticklabels(['%.2f' % lo, '%.2f' % hi], rotation=90, va='center')

        for s in ['top', 'right']:
            ax.spines[s].set_visible(False)
        for s in ['left', 'bottom']:
            ax.spines[s].set_color('#555555')
            ax.spines[s].set_linewidth(0.8)
        ax.tick_params(direction='out', length=3, width=0.8, colors='#555555',
                       labelcolor='#333333', labelsize=9.5, pad=2)

        if row == 0:
            ax.set_title(methods[col], fontsize=15, pad=19, color='#222222',
                         family=['Liberation Sans Narrow', 'Liberation Sans'])
        if row == 2:
            ax.set_xlabel('Age (years)', fontsize=9.5, color='#333333', labelpad=2)
        if col == 0:
            ax.set_ylabel(measures[row], fontsize=9, color='#333333', labelpad=4)

        if r_labels[row][col] is not None:
            t = ax.text(1.0, 0.975, ' = ' + r_labels[row][col], transform=ax.transAxes,
                        ha='right', va='bottom', fontsize=10, color='#111111')
            ax.annotate('r', xy=(0, 0), xycoords=t, ha='right', va='bottom',
                        fontsize=10, fontweight='bold', fontstyle='italic', color='#111111')

# thin frame on top and left
fig.add_artist(Line2D([8 / W, 1], [1 - 8 / H, 1 - 8 / H], transform=fig.transFigure,
                      color='#777777', lw=1.5))
fig.add_artist(Line2D([8 / W, 8 / W], [0, 1 - 8 / H], transform=fig.transFigure,
                      color='#777777', lw=1.5))

fig.savefig('out.png', dpi=100)
